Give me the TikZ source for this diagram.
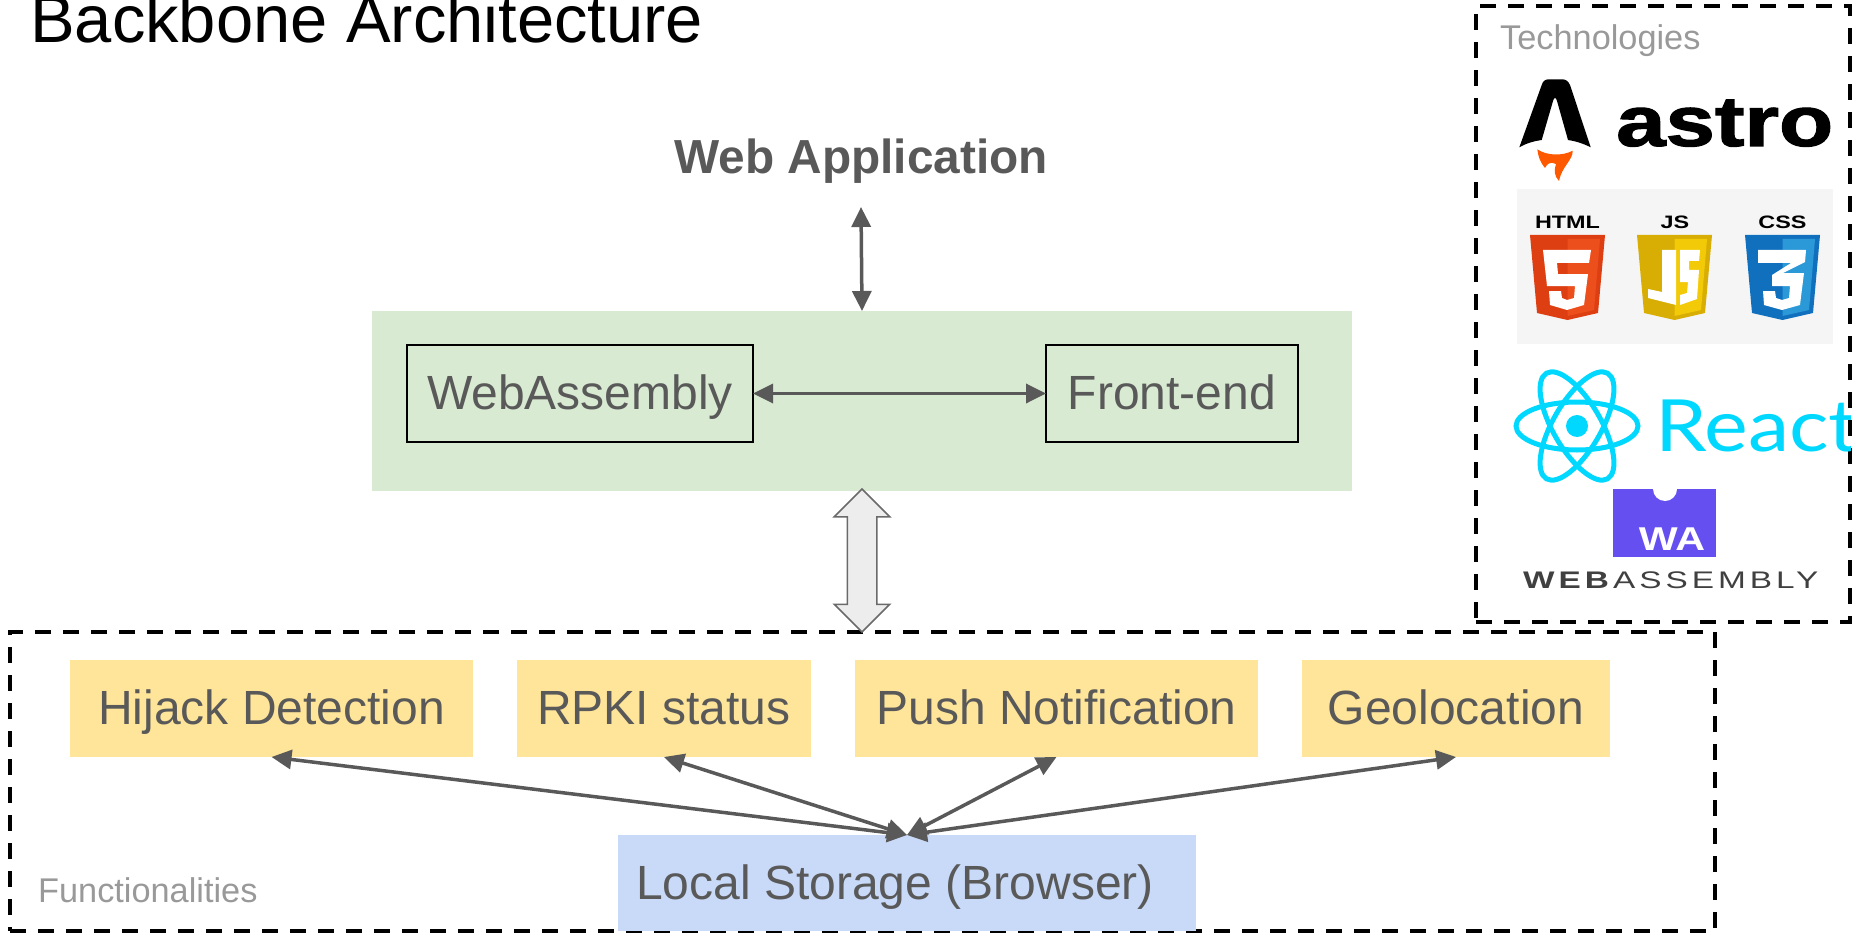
\documentclass[tikz,border=0pt]{standalone}
\usepackage{fontspec}
\setmainfont{Liberation Sans}
\newfontfamily\astrofont[FakeBold=1.5]{Liberation Sans}
\newfontfamily\reactfont{Lato}
\newfontfamily\wasmfont[LetterSpace=12]{Liberation Sans}
\usetikzlibrary{arrows.meta,shapes.arrows}

\definecolor{inkgrey}{HTML}{595959}
\definecolor{softgrey}{HTML}{999999}
\definecolor{greenfill}{HTML}{D9EAD3}
\definecolor{yellowfill}{HTML}{FFE599}
\definecolor{bluefill}{HTML}{C9DAF8}
\definecolor{reactblue}{HTML}{00D8FF}
\definecolor{wasmpurple}{HTML}{654FF0}
\definecolor{htmldark}{HTML}{DD3F12}
\definecolor{htmllight}{HTML}{EC4F1C}
\definecolor{jsdark}{HTML}{D8AE04}
\definecolor{jslight}{HTML}{F2CA08}
\definecolor{cssdark}{HTML}{1170BE}
\definecolor{csslight}{HTML}{2B98D8}

\tikzset{
  bodytext/.style={font=\fontsize{48}{58}\selectfont, text=inkgrey, inner sep=0pt, outer sep=0pt,
    text height=33pt, text depth=1pt},
  techbox/.style={bodytext, draw=black, line width=1.5pt, minimum height=97pt},
  featurebox/.style={bodytext, fill=yellowfill, minimum height=97pt},
  dashbox/.style={draw=black, line width=3.5pt, dash pattern=on 16pt off 12pt, inner sep=0pt},
  smalllabel/.style={font=\fontsize{34.3}{40}\selectfont, text=softgrey, inner sep=0pt, anchor=base west},
  shieldlabel/.style={font=\fontsize{18}{20}\selectfont\bfseries, inner sep=0pt},
  link/.style={draw=inkgrey, line width=3.5pt, {Triangle[length=20pt,width=19pt]}-{Triangle[length=20pt,width=19pt]}}
}

% one shield of the logo row: x offset, rim colour, inner colour, white glyph
\newcommand{\shieldlogo}[4]{
  \begin{scope}[shift={(#1,235)}]
    \fill[#2] (0,0) -- (75,0) -- (68,78) -- (37.5,85) -- (7,78) -- cycle;
    \fill[#3] (37.5,4) -- (70,4) -- (64,75) -- (37.5,81) -- cycle;
    \fill[white] #4 -- cycle;
  \end{scope}
}

\begin{document}
\begin{tikzpicture}[x=1pt,y=-1pt]
  \useasboundingbox (0,0) rectangle (1854,933);
  \clip (0,0) rectangle (1854,933);

  \node[anchor=base west, inner sep=0pt, font=\fontsize{66.9}{70}\selectfont] (title) at (30,43) {Backbone Architecture};

  % Web application block
  \node[bodytext, font=\fontsize{47.8}{58}\selectfont\bfseries, minimum height=98pt] (webapp) at (861,158) {Web Application};
  \node[fill=greenfill, minimum width=980pt, minimum height=180pt, inner sep=0pt, outer sep=0pt] (appblock) at (862,401) {};
  \node[techbox, minimum width=346pt] (wasm) at (580,393.5) {WebAssembly};
  \node[techbox, minimum width=252pt] (frontend) at (1172,393.5) {Front-end};
  \draw[link] (webapp.south) -- (appblock.north);
  \draw[link] (wasm.east) -- (frontend.west);

  % Functionalities
  \node[dashbox, minimum width=1705pt, minimum height=299pt] (funcbox) at (862.5,781.5) {};
  \node[smalllabel] (funclabel) at (38,902) {Functionalities};
  \node[featurebox, minimum width=403pt] (hijack) at (271.5,708.5) {Hijack Detection};
  \node[featurebox, minimum width=294pt] (rpki) at (664,708.5) {RPKI status};
  \node[featurebox, minimum width=403pt] (push) at (1056.5,708.5) {Push Notification};
  \node[featurebox, minimum width=308pt] (geo) at (1456,708.5) {Geolocation};
  \node[featurebox, fill=bluefill, minimum width=578pt, minimum height=96pt] (storage) at (907,883) {Local Storage (Browser)\hspace*{24pt}};
  \foreach \f in {hijack,rpki,push,geo}
    \draw[link] (storage.north) -- (\f.south);

  % Double arrow between the two blocks
  \node[double arrow, rotate=90, draw=inkgrey!90, fill=black!7, line width=1.5pt, inner xsep=0pt, inner ysep=14pt,
    minimum height=143pt, double arrow head extend=13pt] (bridge) at (862,560.5) {};

  % Technologies
  \node[dashbox, minimum width=374pt, minimum height=616pt] (techframe) at (1663,314) {};
  \node[smalllabel] (techlabel) at (1500,50) {Technologies};

  % Astro logo
  \fill[black] (1519.3,147.3) -- (1541.7,85) .. controls (1543,81) and (1545,79.3) .. (1549,79.3)
    -- (1562,79.3) .. controls (1566,79.3) and (1568,81) .. (1570,85) -- (1590.7,147.3)
    .. controls (1582,143) and (1575,141) .. (1568,140) -- (1557,101) .. controls (1556,97) and (1554,97) .. (1553,101)
    -- (1541.7,140) .. controls (1534,141) and (1527,143) .. (1519.3,147.3) -- cycle;
  \fill[orange!70!red] (1537.3,149.3) .. controls (1547,156) and (1563,156) .. (1572.7,150.7)
    .. controls (1573,160) and (1562,166) .. (1559,181) .. controls (1554,176) and (1554,170) .. (1556,164)
    .. controls (1550,161) and (1547,164) .. (1545,168) .. controls (1540,162) and (1538,156) .. (1537.3,149.3) -- cycle;
  \node[anchor=base west, inner sep=0pt, font=\astrofont\fontsize{71}{74}\selectfont\bfseries] (astro) at (1616,146) {\scalebox{1.25}[1]{astro}};

  % HTML, JS and CSS logos
  \fill[black!4] (1517,189) rectangle (1833,344);
  \node[shieldlabel] (htmllabel) at (1567.5,222) {\scalebox{1.3}[1]{HTML}};
  \node[shieldlabel] (jslabel) at (1675,222) {\scalebox{1.3}[1]{JS}};
  \node[shieldlabel] (csslabel) at (1782.5,222) {\scalebox{1.3}[1]{CSS}};
  \shieldlogo{1530}{htmldark}{htmllight}{(13,15) -- (61,15) -- (59,28) -- (27,28) -- (28,39) -- (58,39) -- (54,70) -- (37,75) -- (20,70) -- (19,56) -- (31,56) -- (32,63) -- (37,65) -- (44,63) -- (45,51) -- (17,51)}
  \shieldlogo{1637}{jsdark}{jslight}{(25,15) -- (39,15) -- (39,70) -- (11,63) -- (11,54) -- (25,57) -- cycle (43,15) -- (63,15) -- (62,26) -- (52,26) -- (52,35) -- (62,35) -- (60,64) -- (43,70) -- (43,60) -- (50,58) -- (51,47) -- (43,47)}
  \shieldlogo{1745}{cssdark}{csslight}{(13,15) -- (61,15) -- (60,27) -- (38,38) -- (59,38) -- (55,70) -- (37,75) -- (19,70) -- (18,56) -- (30,56) -- (31,63) -- (37,65) -- (44,63) -- (45,51) -- (27,51) -- (27,40) -- (46,28) -- (13,28)}

  % React logo
  \foreach \a in {0,60,120}
    \draw[reactblue, line width=5pt, rotate around={\a:(1577,426)}] (1577,426) ellipse [x radius=61pt, y radius=24pt];
  \fill[reactblue] (1577,426) circle [radius=11pt];
  \begin{scope}
    \clip (1600,360) rectangle (1850,480);
    \node[anchor=base west, inner sep=0pt, text=reactblue, font=\reactfont\fontsize{72}{80}\selectfont] (react) at (1655,451) {\scalebox{1.15}[1]{React}};
  \end{scope}

  % WebAssembly logo
  \fill[wasmpurple] (1613,489) rectangle (1716,557);
  \fill[white] (1653,489) arc[start angle=180, end angle=360, radius=12pt] -- cycle;
  \node[anchor=base, inner sep=0pt, text=white, font=\fontsize{33}{36}\selectfont\bfseries] (walabel) at (1672,550) {\scalebox{1.25}[1]{WA}};
  \node[anchor=base west, inner sep=0pt, text=black!75, font=\wasmfont\fontsize{24}{26}\selectfont] (wasmword) at (1523,588) {\scalebox{1.39}[1]{\textbf{WEB}ASSEMBLY}};
\end{tikzpicture}
\end{document}
